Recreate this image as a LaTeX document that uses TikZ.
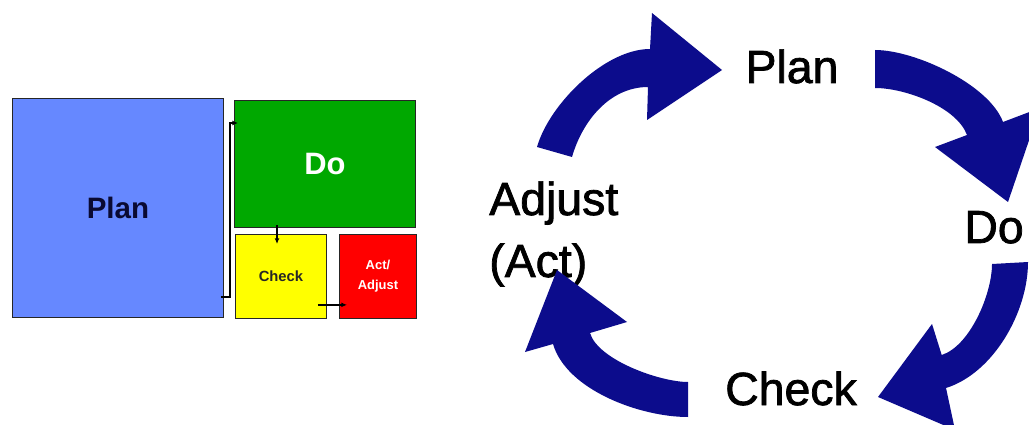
\documentclass[tikz,border=0pt]{standalone}
\usepackage{fontspec}
\setmainfont{Liberation Sans}
\newfontfamily\cyclefont[FakeBold=1.6]{Liberation Sans}
\usetikzlibrary{arrows.meta,calc}
\definecolor{planblue}{RGB}{102,136,255}
\definecolor{dogreen}{RGB}{0,168,0}
\definecolor{checkyellow}{RGB}{255,255,0}
\definecolor{actred}{RGB}{255,0,0}
\definecolor{cyclenavy}{RGB}{12,12,140}
\definecolor{plantext}{RGB}{10,10,50}

\begin{document}
\begin{tikzpicture}[x=0.025cm,y=-0.025cm,
  box/.style={draw=black!85,line width=0.6pt,anchor=north west,inner sep=0pt},
  link/.style={line width=1pt,-{Latex[length=4pt,width=3.5pt]}},
  cyc/.style={fill=cyclenavy},
  cyclbl/.style={font=\cyclefont\fontsize{33}{40}\selectfont,inner sep=0pt}]
\useasboundingbox (0,0) rectangle (1029,425);
\clip (0,0) rectangle (1029,425);
\fill[white] (0,0) rectangle (1029,425);

% block layout
\node[box,fill=planblue,minimum width=5.275cm,minimum height=5.475cm,text=plantext,
  font=\bfseries\fontsize{21}{24}\selectfont] (plan) at (12,98) {Plan};
\node[box,fill=dogreen,minimum width=4.525cm,minimum height=3.175cm,text=white,
  font=\bfseries\fontsize{22}{26}\selectfont] (do) at (234,100) {Do};
\node[box,fill=checkyellow,minimum width=2.275cm,minimum height=2.1cm,text=black!85,
  font=\bfseries\fontsize{10.5}{12}\selectfont] (check) at (235,234) {Check};
\node[box,fill=actred,minimum width=1.925cm,minimum height=2.1cm,text=white,align=center,
  font=\bfseries\fontsize{9.2}{14}\selectfont] (act) at (339,234) {Act/\\Adjust};

\draw[link] ($(plan.south east)+(-3,-21)$) -- ++(9,0) |- ($(do.north west)+(4,23)$);
\draw[link] ($(do.south west)+(43,-3)$) -- ($(check.north west)+(42,10)$);
\draw[link] ($(check.south east)+(-9,-14)$) -- ($(act.south west)+(8,-14)$);

% cycle
\node[cyclbl,anchor=base] (cplan) at (792,83) {Plan};
\node[cyclbl,anchor=base] (cdo) at (994,243) {Do};
\node[cyclbl,anchor=base] (ccheck) at (791,405) {Check};
\node[cyclbl,anchor=base west] (cadjust) at (489,215) {Adjust};
\node[cyclbl,anchor=base west] (cact) at (489,277) {(Act)};

\fill[cyc] (537,147) .. controls (549.4,103.8) and (605,49) .. (650,49) -- (652,13) -- (722,70)
  -- (647,120) -- (648,87) .. controls (610,87) and (582.5,120.5) .. (572,157) -- cycle;
\fill[cyc] (875,50) .. controls (915,50) and (989,84.5) .. (1003,122) -- (1040,108) -- (1008,202)
  -- (935,147) -- (967,135) .. controls (956.6,106.9) and (905,88) .. (875,88) -- cycle;
\fill[cyc] (1028,262) .. controls (1028,312) and (993.5,373) .. (946,388) -- (955,430) -- (878,397)
  -- (932,324) -- (941.7,355) .. controls (970,346) and (992,294) .. (992,264) -- cycle;
\fill[cyc] (688,417) .. controls (640,417) and (566.5,390) .. (553,344) -- (525,352) -- (557,270)
  -- (627,322) -- (590,333) .. controls (598,360) and (660,382) .. (688,382) -- cycle;
\end{tikzpicture}
\end{document}
